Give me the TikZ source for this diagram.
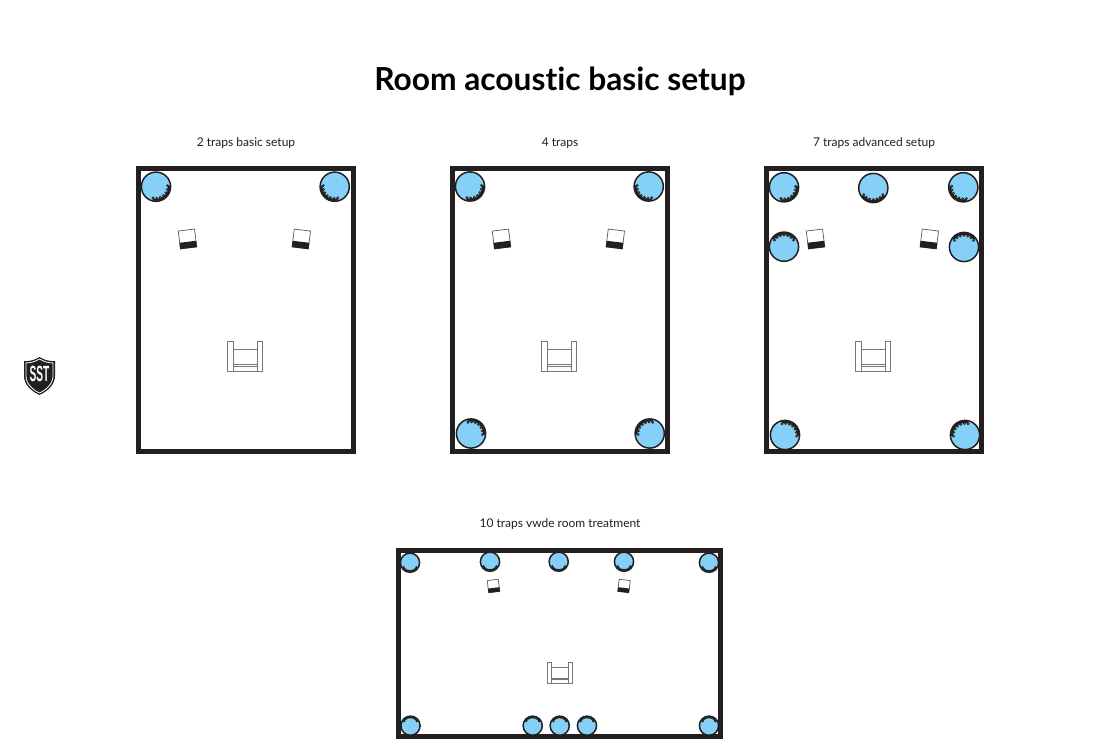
\documentclass[tikz,border=0pt]{standalone}
\usepackage{fontspec}
\setmainfont{Lato}[Ligatures=NoCommon]
\newfontfamily\sstfont{Liberation Sans}
\definecolor{ink}{HTML}{231F20}
\definecolor{trapblue}{HTML}{85D0F6}
\definecolor{chairline}{HTML}{777777}
\tikzset{
  roombox/.style={draw=ink,line width=4.6pt,fill=white},
  trapdisc/.style={draw=ink,line width=1.5pt,fill=trapblue},
  trapband/.style={draw=ink,line width=2pt},
  trapband small/.style={draw=ink,line width=1.4pt},
  speakerbox/.style={draw=ink!75,line width=.7pt,fill=white},
  speakerfront/.style={fill=ink},
  chairpart/.style={draw=chairline,line width=.7pt,fill=white},
  heading/.style={font=\bfseries\fontsize{31.7}{34}\selectfont,text=black,inner sep=0pt},
  caption/.style={font=\fontsize{12}{14}\selectfont,text=ink,inner sep=0pt},
}
% large trap: x, y, start angle, end angle
\newcommand{\bigtrap}[4]{%
  \begin{scope}[shift={(#1pt,-#2pt)}]
    \fill[trapblue] (0,0) circle (14.6pt);
    \draw[trapband] (#3:13.2pt) arc[start angle=#3,end angle=#4,radius=13.2pt];
    \foreach \k in {0,0.167,0.333,0.5,0.667,0.833,1}
      \fill[ink] ({#3+\k*(#4-#3)}:11.6pt) circle (1.55pt);
    \foreach \k in {0,0.167,0.333,0.5,0.667,0.833,1}
      \fill[gray!60!ink] ({#3+\k*(#4-#3)}:11.6pt) circle (.55pt);
    \draw[trapdisc,fill=none] (0,0) circle (14.6pt);
  \end{scope}}
% small trap
\newcommand{\smalltrap}[4]{%
  \begin{scope}[shift={(#1pt,-#2pt)}]
    \fill[trapblue] (0,0) circle (9.6pt);
    \draw[trapband small] (#3:8.3pt) arc[start angle=#3,end angle=#4,radius=8.3pt];
    \fill[ink] (#3:7.8pt) circle (1.2pt);
    \fill[ink] (#4:7.8pt) circle (1.2pt);
    \draw[trapdisc,fill=none] (0,0) circle (9.6pt);
  \end{scope}}
% speaker: x, y, rotation, scale
\newcommand{\speaker}[4]{%
  \begin{scope}[shift={(#1pt,-#2pt)},rotate=#3,scale=#4]
    \draw[speakerbox] (-8.2pt,-9pt) rectangle (8.2pt,9pt);
    \fill[speakerfront] (-8.4pt,-9.2pt) rectangle (8.4pt,-2.8pt);
  \end{scope}}
% chair: x, y of centre, scale
\newcommand{\chair}[3]{%
  \begin{scope}[shift={(#1pt,-#2pt)},scale=#3]
    \draw[chairpart] (-12pt,7.5pt) rectangle (12pt,-15pt);
    \draw[chairpart] (-12pt,-8pt) -- (12pt,-8pt);
    \draw[chairpart] (-12pt,-9.3pt) -- (12pt,-9.3pt);
    \draw[chairpart] (-17.7pt,15pt) rectangle (-12pt,-15pt);
    \draw[chairpart] (12pt,15pt) rectangle (17.7pt,-15pt);
  \end{scope}}
\begin{document}
\begin{tikzpicture}[x=1pt,y=1pt]
\useasboundingbox[fill=white] (0,0) rectangle (1120,-752);
\node[heading] (title) at (560,-81) {Room acoustic basic setup};
\node[caption] (capa) at (246,-143) {2 traps basic setup};
\node[caption] (capb) at (560,-143) {4 traps};
\node[caption] (capc) at (874,-143) {7 traps advanced setup};
\node[caption] (capd) at (560,-524) {10 traps vwde room treatment};
% rooms
\draw[roombox] (138.5,-168.5) rectangle (353.5,-451.5);
\draw[roombox] (452.5,-168.5) rectangle (667.5,-451.5);
\draw[roombox] (766.5,-168.5) rectangle (981.5,-451.5);
\draw[roombox] (398.5,-550.5) rectangle (720.5,-736.5);
% room 1
\bigtrap{156}{186.7}{-105}{5}
\bigtrap{334.7}{186.7}{175}{285}
\speaker{187.5}{239}{7}{1}
\speaker{301.3}{239}{-7}{1}
\chair{245}{356.7}{1}
% room 2
\bigtrap{470}{186.5}{-105}{5}
\bigtrap{648.7}{186.5}{175}{285}
\bigtrap{471}{433.5}{105}{-5}
\bigtrap{649.7}{433.5}{75}{185}
\speaker{501.5}{239}{7}{1}
\speaker{615.3}{239}{-7}{1}
\chair{559}{356.7}{1}
% room 3
\bigtrap{784}{187.3}{-105}{5}
\bigtrap{873.3}{188}{215}{325}
\bigtrap{963.3}{187.3}{175}{285}
\bigtrap{784}{246.7}{35}{145}
\bigtrap{964}{247}{35}{145}
\bigtrap{785}{435}{105}{-5}
\bigtrap{965}{435}{75}{185}
\speaker{815.5}{239}{7}{1}
\speaker{929.3}{239}{-7}{1}
\chair{873}{356.7}{1}
% room 4
\smalltrap{410}{562.7}{215}{325}
\smalltrap{490}{561.7}{215}{325}
\smalltrap{558.7}{561.7}{215}{325}
\smalltrap{624}{561.7}{215}{325}
\smalltrap{709}{562.7}{215}{325}
\smalltrap{410.5}{725.7}{35}{145}
\smalltrap{532.7}{725.7}{35}{145}
\smalltrap{559.7}{725.7}{35}{145}
\smalltrap{587}{725.7}{35}{145}
\smalltrap{709}{725.7}{35}{145}
\speaker{493.5}{586}{7}{.68}
\speaker{624}{586}{-7}{.68}
\chair{559.7}{672.7}{.69}
% logo
\fill[ink] (39.5,-357) .. controls (35,-360) and (29,-361.5) .. (24,-361)
  -- (24,-376) .. controls (24,-385) and (32,-391.5) .. (39.5,-395)
  .. controls (47,-391.5) and (55,-385) .. (55,-376) -- (55,-361)
  .. controls (50,-361.5) and (44,-360) .. (39.5,-357) -- cycle;
\draw[white,line width=.8pt] (39.5,-359) .. controls (35,-361.7) and (30.5,-363) .. (26,-362.9)
  -- (26,-376) .. controls (26,-384) and (33,-390) .. (39.5,-393)
  .. controls (46,-390) and (53,-384) .. (53,-376) -- (53,-362.9)
  .. controls (48.5,-363) and (44,-361.7) .. (39.5,-359) -- cycle;
\node[inner sep=0pt,text=white,font=\sstfont\bfseries\fontsize{22}{22}\selectfont,xscale=.46] (sst) at (39.5,-373.5) {SST};
\end{tikzpicture}
\end{document}
